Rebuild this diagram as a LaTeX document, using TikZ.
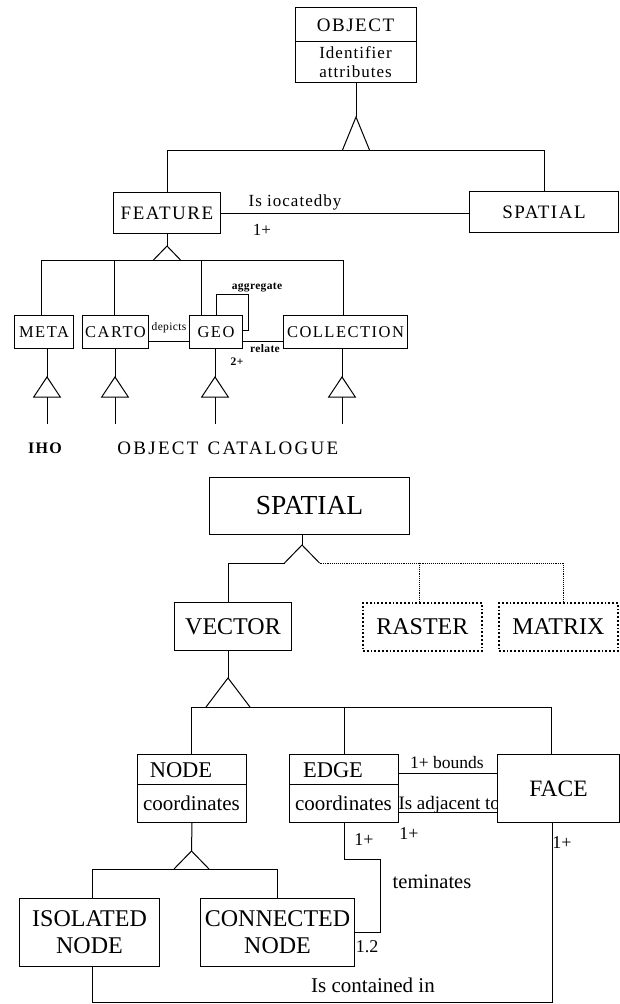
\documentclass[tikz,border=0pt]{standalone}
\usepackage{fontspec}
\setmainfont{Liberation Serif}
\newfontfamily\spA[LetterSpace=8]{Liberation Serif}
\newfontfamily\spB[LetterSpace=9]{Liberation Serif}
\newfontfamily\spC[LetterSpace=6]{Liberation Serif}
\newfontfamily\spD[LetterSpace=12]{Liberation Serif}
\newfontfamily\spBold[LetterSpace=8]{Liberation Serif Bold}
\newfontfamily\spSmall[LetterSpace=3]{Liberation Serif Bold}
\newfontfamily\spSmallR[LetterSpace=3]{Liberation Serif}
\newcommand\fsz[1]{\fontsize{#1}{#1}\selectfont}
\tikzset{
  box/.style={draw, line width=1pt, inner sep=0pt, anchor=north west, fill=white},
  sz/.style 2 args={minimum width=#1pt, minimum height=#2pt},
  dbox/.style={draw, dotted, line width=1.8pt, inner sep=0pt, anchor=north west},
  conn/.style={line width=1pt},
  dconn/.style={densely dotted, line width=0.9pt},
  lbl/.style={inner sep=0pt},
  capA/.style={font=\spA\fsz{19}},
  capB/.style={font=\spB\fsz{16.5}},
  small/.style={font=\spSmall\fsz{11.5}},
  big/.style={font=\fsz{24}},
}
\begin{document}
\begin{tikzpicture}[x=1pt,y=-1pt]
\fill[white] (0,0) rectangle (620,1004);
\useasboundingbox (0,0) rectangle (620,1004);

% ---------------- top: OBJECT ----------------
\node[box, sz={121}{75}] (object) at (295,7) {};
\draw[conn] (object.west |- 0,41) -- (object.east |- 0,41);
\node[lbl, capA] (objt) at (355.5,25) {OBJECT};
\node[lbl, font=\spC\fsz{17}] (objid) at (355.5,53) {Identifier};
\node[lbl, font=\spC\fsz{17}] (objat) at (355.5,72) {attributes};

\coordinate (t1) at (356,117);
\draw[conn] (object.south) -- (t1);
\draw[conn] (t1) ++(-13.5,33) -- (t1) -- ++(13.5,33);
\coordinate (b1L) at (167,150);
\coordinate (b1R) at (544,150);
\draw[conn] (b1L) -- (b1R);

\node[box, sz={107}{41}, capA] (feature) at (113,192) {FEATURE};
\node[box, sz={149}{41}, capA] (spatialA) at (469,191) {SPATIAL};
\draw[conn] (b1L) -- (b1L |- feature.north);
\draw[conn] (b1R) -- (b1R |- spatialA.north);
\draw[conn] (feature.east) -- (feature.east -| spatialA.west);
\node[lbl, font=\spC\fsz{17}] (loc) at (295,202) {Is iocatedby};
\node[lbl, font=\fsz{17}] (loc1) at (262,230) {1+};

% ---------------- FEATURE subclasses ----------------
\coordinate (t2) at (167,246);
\draw[conn] (feature.south) -- (t2);
\draw[conn] (t2) ++(-13.5,14) -- (t2) -- ++(13.5,14);
\coordinate (b2L) at (41,260);
\coordinate (b2R) at (343,260);
\draw[conn] (b2L) -- (b2R);
\coordinate (d2) at (114,260);
\coordinate (d3) at (201,260);

\node[box, sz={59}{33}, capB] (meta) at (14,315) {META};
\node[box, sz={66}{33}, capB] (carto) at (82,315) {CARTO};
\node[box, sz={53}{33}, capB] (geo) at (189,315) {GEO};
\node[box, sz={124}{33}, capB] (coll) at (283,315) {COLLECTION};
\draw[conn] (b2L) -- (b2L |- meta.north);
\draw[conn] (d2) -- (d2 |- carto.north);
\draw[conn] (d3) -- (d3 |- geo.north);
\draw[conn] (b2R) -- (b2R |- coll.north);

\coordinate (ag) at (248,294);
\draw[conn] (geo.north) |- (ag) |- (geo.east |- 0,330);
\node[lbl, small] (aggl) at (257,288) {aggregate};
\draw[conn] (carto.east |- 0,341) -- (geo.west |- 0,341);
\node[lbl, font=\spSmallR\fsz{11.5}] (depl) at (169,328) {depicts};
\draw[conn] (geo.east |- 0,341) -- (coll.west |- 0,341);
\node[lbl, small] (rell) at (265,349) {relate};
\node[lbl, small] (rel2) at (237,362) {2+};

% lower triangles
\coordinate (la) at (47,377);
\coordinate (lb) at (115,377);
\coordinate (lc) at (215,377);
\coordinate (ld) at (342,377);
\draw[conn] (la |- meta.south) -- (la);
\draw[conn] (lb |- carto.south) -- (lb);
\draw[conn] (lc |- geo.south) -- (lc);
\draw[conn] (ld |- coll.south) -- (ld);
\foreach \p in {la,lb,lc,ld}{
  \draw[conn, line join=miter] (\p) -- ++(-13.3,20) -- ++(26.6,0) -- cycle;
  \draw[conn] (\p) ++(0,20) -- ++(0,27);
}
\node[lbl, font=\spBold\fsz{16}] (iho) at (45,448) {IHO};
\node[lbl, font=\spD\fsz{19}] (objc) at (158,448) {OBJECT};
\node[lbl, font=\spD\fsz{19}] (cat) at (273,448) {CATALOGUE};

% ---------------- bottom: SPATIAL ----------------
\node[box, sz={200}{57}, font=\fsz{27.5}] (spatialB) at (209,477) {SPATIAL};
\coordinate (t3) at (302,545);
\draw[conn] (t3 |- spatialB.south) -- (t3);
\draw[conn] (t3) ++(-17.5,18) -- (t3) -- ++(17.5,18);
\coordinate (s1) at (228,563);
\coordinate (s2) at (419,563);
\coordinate (s3) at (563,563);
\draw[conn] (s1) -- ++(56.5,0);
\draw[dconn] (s3) -- ++(-243.5,0);

\node[box, sz={117}{48}, big] (vector) at (174,602) {VECTOR};
\node[dbox, sz={119}{48}, big] (raster) at (362,602) {RASTER};
\node[dbox, sz={119}{48}, big] (matrix) at (498,602) {MATRIX};
\draw[conn] (s1) -- (s1 |- vector.north);
\draw[dconn] (s2) -- (s2 |- raster.north);
\draw[dconn] (s3) -- (s3 |- matrix.north);

\coordinate (t4) at (228,678);
\draw[conn] (t4 |- vector.south) -- (t4);
\draw[conn] (t4) ++(-22,29) -- (t4) -- ++(22,29);
\coordinate (v1) at (191,707);
\coordinate (v2) at (344,707);
\coordinate (v3) at (551,707);
\draw[conn] (v1) -- (v3);

\node[box, sz={109}{68}] (node) at (137,754) {};
\draw[conn] (node.west |- 0,784) -- (node.east |- 0,784);
\node[lbl, font=\fsz{22.5}] (nodet) at (181,770) {NODE};
\node[lbl, font=\fsz{21}] (nodec) at (191.5,803) {coordinates};

\node[box, sz={109}{68}] (edge) at (289,754) {};
\draw[conn] (edge.west |- 0,784) -- (edge.east |- 0,784);
\node[lbl, font=\fsz{22.5}] (edget) at (333,770) {EDGE};
\node[lbl, font=\fsz{21}] (edgec) at (343.5,803) {coordinates};

\node[lbl, font=\fsz{19}, anchor=base east] (adjl) at (500,809) {Is adjacent to};
\node[box, sz={122}{68}, font=\fsz{23.5}] (face) at (497,754) {FACE};

\draw[conn] (v1) -- (v1 |- node.north);
\draw[conn] (v2) -- (v2 |- edge.north);
\draw[conn] (v3) -- (v3 |- face.north);

\draw[conn] (edge.east |- 0,773) -- (face.west |- 0,773);
\node[lbl, font=\fsz{17.5}] (bndl) at (447,763) {1+ bounds};
\draw[conn] (edge.east |- 0,812) -- (face.west |- 0,812);
\node[lbl, font=\fsz{18}] (adj1) at (409,834) {1+};
\node[lbl, font=\fsz{18}] (edg1) at (364,840) {1+};
\node[lbl, font=\fsz{18}] (fac1) at (562,843) {1+};

\coordinate (t5) at (191.5,851);
\draw[conn] (node.south) -- (t5);
\draw[conn] (t5) ++(-17.5,18) -- (t5) -- ++(17.5,18);
\coordinate (n1) at (92,869);
\coordinate (n2) at (277,869);
\draw[conn] (n1) -- (n2);

\node[box, sz={140}{68}, font=\fsz{24}, align=center] (isolated) at (19,898) {ISOLATED\\[3pt]NODE};
\node[box, sz={154}{68}, font=\fsz{24}, align=center] (connected) at (200,898) {CONNECTED\\[3pt]NODE};
\draw[conn] (n1) -- (n1 |- isolated.north);
\draw[conn] (n2) -- (n2 |- connected.north);

\coordinate (tm) at (380,859);
\draw[conn] (edge.south) |- (tm) |- (connected.east |- 0,932);
\node[lbl, font=\fsz{20.5}] (teml) at (432,882) {teminates};
\node[lbl, font=\fsz{18}] (l12) at (367,947) {1.2};

\coordinate (fx) at (552,1002);
\draw[conn] (fx |- face.south) -- (fx) -- (fx -| n1) -- (n1 |- isolated.south);
\node[lbl, font=\fsz{21}] (contl) at (373,985) {Is contained in};
\end{tikzpicture}
\end{document}
